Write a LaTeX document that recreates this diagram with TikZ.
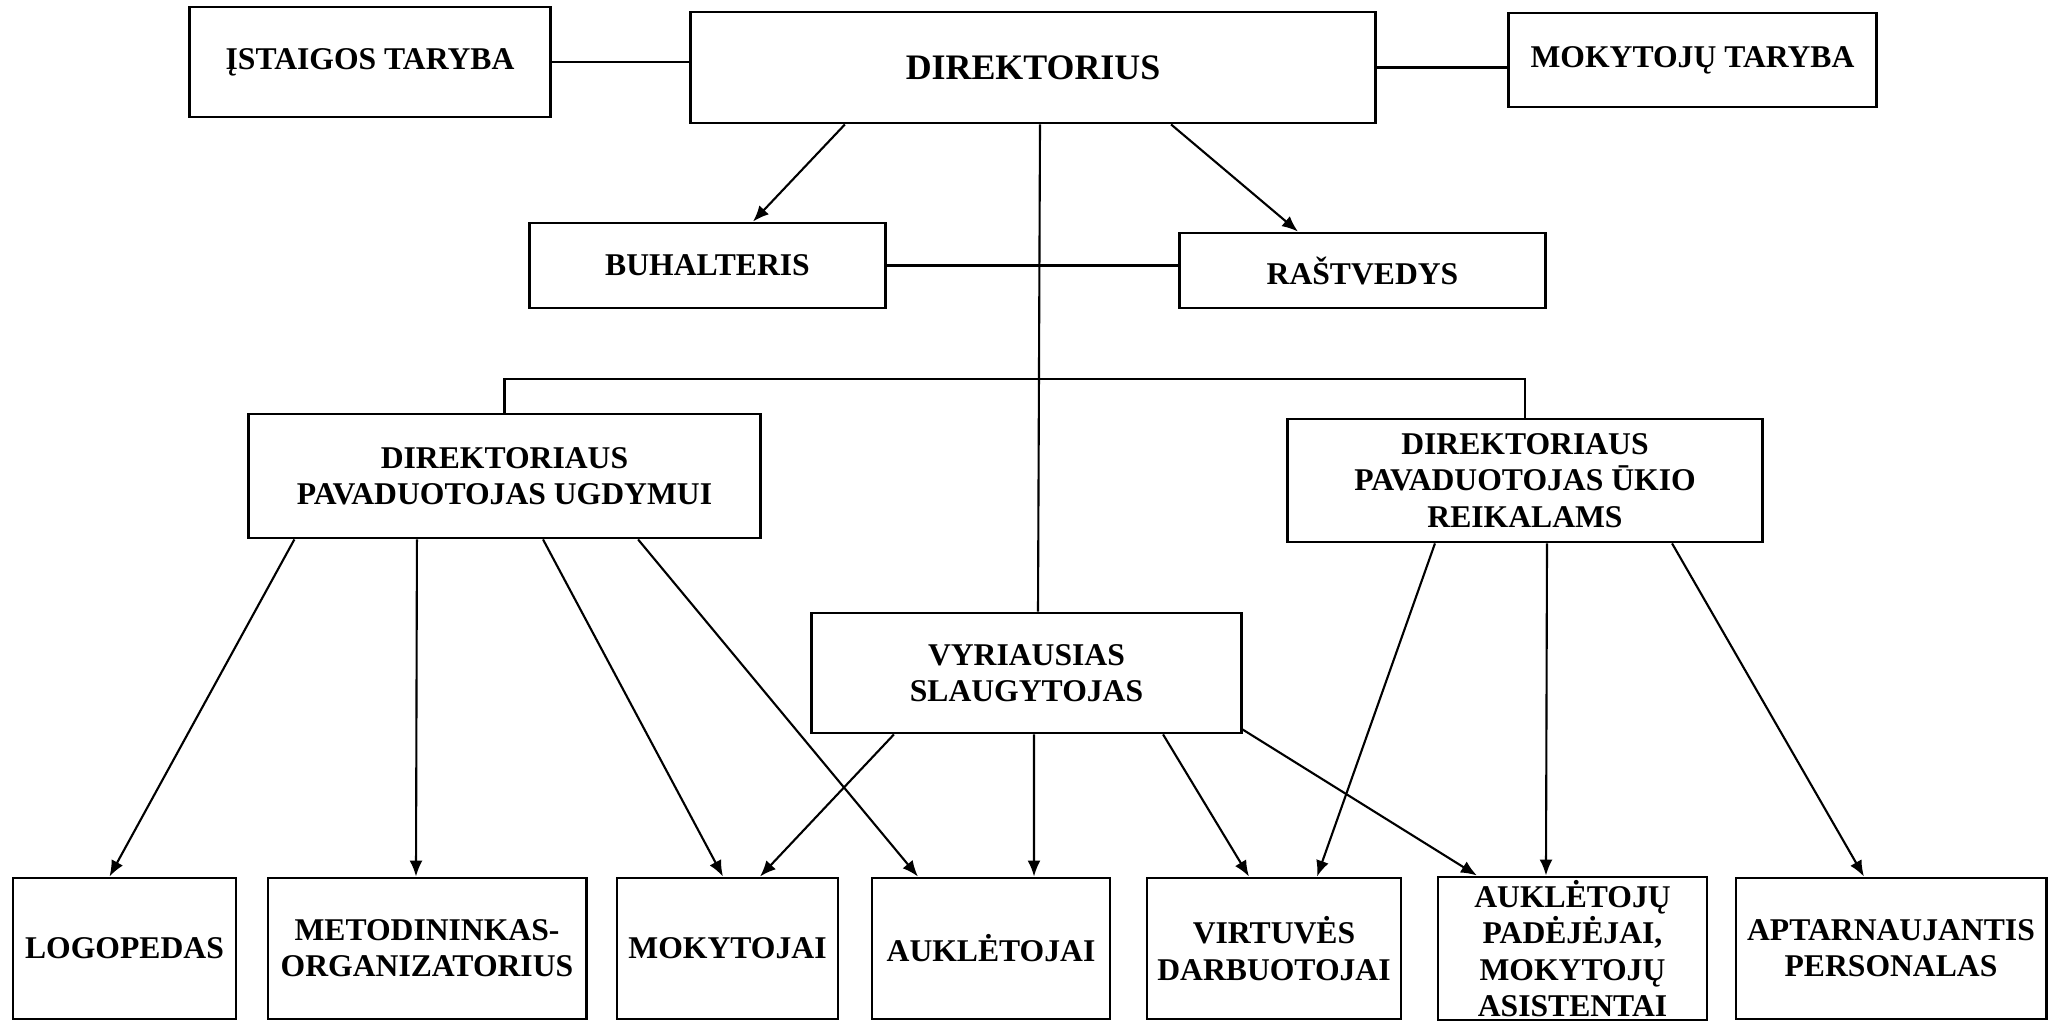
\documentclass[tikz,border=0pt]{standalone}
\usepackage{fontspec}
\setmainfont{Liberation Serif}
\usetikzlibrary{arrows.meta}
\tikzset{box/.style={draw, line width=0.8pt, align=center, inner sep=1pt,
    font=\bfseries\fontsize{9}{10.3}\selectfont},
  low/.style={box, minimum height=1.41cm},
  arr/.style={line width=0.6pt, -{Latex[length=1.6mm, width=1.3mm]}},
  link/.style={line width=0.6pt}}

\begin{document}
\begin{tikzpicture}[x=0.01cm, y=-0.01cm]
  \useasboundingbox (0,0) rectangle (2053,1021);
  \node [box, minimum width=3.6cm, minimum height=1.1cm] (ist) at (370,62) {ĮSTAIGOS TARYBA};
  \node [box, minimum width=6.84cm, minimum height=1.11cm,
    font=\bfseries\fontsize{10.2}{12}\selectfont] (dir) at (1033,67.5) {DIREKTORIUS};
  \node [box, minimum width=3.67cm, minimum height=0.94cm] (mok) at (1692.5,60) {MOKYTOJŲ TARYBA};
  \node [box, minimum width=3.55cm, minimum height=0.85cm] (buh) at (707.5,265.5) {BUHALTERIS};
  \node [box, minimum width=3.65cm, minimum height=0.75cm] (ras) at (1362.5,270.5) {RAŠTVEDYS};
  \node [box, minimum width=5.11cm, minimum height=1.24cm] (ugd) at (504.5,476)
    {DIREKTORIAUS\\PAVADUOTOJAS UGDYMUI};
  \node [box, minimum width=4.74cm, minimum height=1.23cm] (uki) at (1525,480.5)
    {DIREKTORIAUS\\PAVADUOTOJAS ŪKIO\\REIKALAMS};
  \node [box, minimum width=4.29cm, minimum height=1.2cm] (vyr) at (1026.5,673)
    {VYRIAUSIAS\\SLAUGYTOJAS};

  \node [low, minimum width=2.23cm] (logo) at (124.5,948.5) {LOGOPEDAS};
  \node [low, minimum width=3.18cm] (met) at (427,948.5) {METODININKAS-\\ORGANIZATORIUS};
  \node [low, minimum width=2.21cm] (mkt) at (727.5,948.5) {MOKYTOJAI};
  \node [low, minimum width=2.38cm] (aukl) at (991,948.5) {AUKLĖTOJAI};
  \node [low, minimum width=2.54cm] (virt) at (1274,948.5) {VIRTUVĖS\\DARBUOTOJAI};
  \node [low, minimum width=2.69cm] (apad) at (1572.5,948.5)
    {AUKLĖTOJŲ\\PADĖJĖJAI,\\MOKYTOJŲ\\ASISTENTAI};
  \node [low, minimum width=3.1cm] (apt) at (1891,948.5) {APTARNAUJANTIS\\PERSONALAS};

  \coordinate (bus) at (1000,379);

  \draw [link] (ist.east) -- (ist.east -| dir.west);
  \draw [link] (dir.east) -- (dir.east -| mok.west);
  \draw [link] (buh.east) -- (buh.east -| ras.west);
  \draw [link] ([xshift=0.07cm]dir.south) -- ([xshift=0.115cm]vyr.north);
  \draw [link] (ugd.north) |- (bus) -| (uki.north);

  \draw [arr] ([xshift=-1.88cm]dir.south) -- ([xshift=0.455cm]buh.north);
  \draw [arr] ([xshift=1.38cm]dir.south) -- ([xshift=-0.645cm]ras.north);

  \draw [arr] ([xshift=-2.1cm]ugd.south) -- ([xshift=-0.15cm]logo.north);
  \draw [arr] ([xshift=-0.875cm]ugd.south) -- ([xshift=-0.11cm]met.north);
  \draw [arr] ([xshift=0.385cm]ugd.south) -- ([xshift=-0.045cm]mkt.north);
  \draw [arr] ([xshift=1.335cm]ugd.south) -- ([xshift=-0.73cm]aukl.north);

  \draw [arr] ([xshift=-1.325cm]vyr.south) -- ([xshift=0.325cm]mkt.north);
  \draw [arr] ([xshift=0.075cm]vyr.south) -- ([xshift=0.43cm]aukl.north);
  \draw [arr] ([xshift=1.365cm]vyr.south) -- ([xshift=-0.25cm]virt.north);
  \draw [arr] ([yshift=0.05cm]vyr.south east) -- ([xshift=-0.955cm]apad.north);

  \draw [arr] ([xshift=-0.9cm]uki.south) -- ([xshift=0.43cm]virt.north);
  \draw [arr] ([xshift=0.22cm]uki.south) -- ([xshift=-0.265cm]apad.north);
  \draw [arr] ([xshift=1.47cm]uki.south) -- ([xshift=-0.27cm]apt.north);
\end{tikzpicture}
\end{document}
